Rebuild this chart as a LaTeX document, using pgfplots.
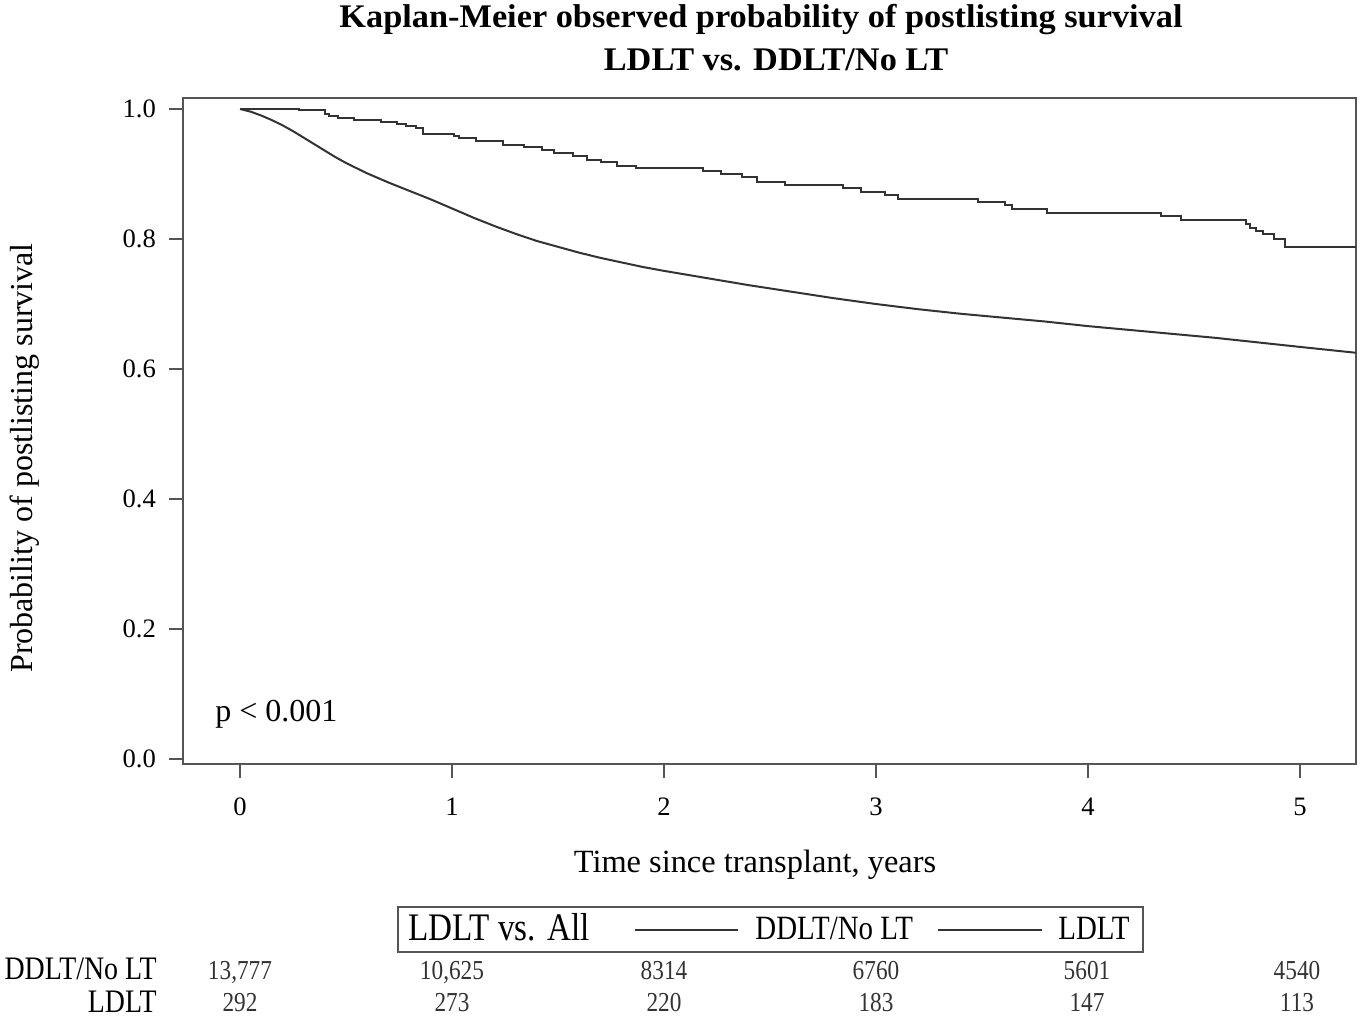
\documentclass[border=0pt]{standalone}
\usepackage{fontspec}
\setmainfont{Liberation Serif}
\newfontfamily\cond[FakeStretch=0.85]{Liberation Serif}
\newfontfamily\titlefont[FakeStretch=1.04]{Liberation Serif}
\usepackage{pgfplots}
\pgfplotsset{compat=1.18}

\definecolor{frame}{HTML}{555555}
\definecolor{curve}{HTML}{333333}

% Kaplan-Meier estimates
\pgfplotstableread{
t    s
0     1.000
0.278 0.998
0.401 0.992
0.420 0.989
0.462 0.986
0.538 0.983
0.665 0.980
0.740 0.977
0.783 0.974
0.830 0.971
0.863 0.962
1.009 0.958
1.033 0.955
1.113 0.951
1.241 0.945
1.340 0.941
1.425 0.937
1.481 0.933
1.571 0.927
1.637 0.922
1.703 0.918
1.778 0.913
1.868 0.909
2.184 0.905
2.269 0.900
2.368 0.895
2.439 0.887
2.571 0.883
2.844 0.878
2.929 0.873
3.042 0.868
3.104 0.862
3.481 0.857
3.608 0.852
3.642 0.846
3.807 0.840
4.344 0.835
4.439 0.829
4.745 0.823
4.764 0.817
4.792 0.812
4.825 0.807
4.877 0.800
4.929 0.788
5.264 0.788
}\ldlt

\pgfplotstableread{
t    s
0     1.000
0.05  0.996
0.10  0.990
0.15  0.983
0.20  0.975
0.25  0.966
0.30  0.956
0.35  0.946
0.40  0.936
0.45  0.926
0.50  0.917
0.55  0.909
0.60  0.901
0.65  0.894
0.70  0.887
0.80  0.874
0.90  0.861
1.0   0.847
1.1   0.833
1.2   0.820
1.3   0.808
1.4   0.797
1.5   0.788
1.6   0.779
1.7   0.771
1.8   0.764
1.9   0.757
2.0   0.751
2.2   0.740
2.4   0.729
2.6   0.719
2.8   0.709
3.0   0.700
3.2   0.692
3.4   0.685
3.6   0.679
3.8   0.673
4.0   0.666
4.2   0.660
4.4   0.654
4.6   0.648
4.8   0.641
5.0   0.634
5.264 0.625
}\ddlt

\begin{document}
\begin{tikzpicture}
\path[use as bounding box] (0pt,0pt) rectangle (680.5pt,509pt);

% axis frame: x 183..1356 px, y 98..764 px from the top (1 px = 0.5pt)
\begin{axis}[
    at={(91.5pt,127pt)}, anchor=south west,
    width=586.5pt, height=333pt, scale only axis,
    xmin=-0.269, xmax=5.264,
    ymin=-0.0077, ymax=1.017,
    xtick={0,1,2,3,4,5},
    ytick={0,0.2,0.4,0.6,0.8,1.0},
    y tick label style={/pgf/number format/fixed, /pgf/number format/fixed zerofill, /pgf/number format/precision=1},
    /pgf/number format/assume math mode=true,
    tick pos=left,
    tick align=outside,
    major tick length=7pt,
    axis line style={frame, line width=0.8pt},
    every tick/.style={frame, line width=0.8pt},
    ticklabel style={font=\fontsize{13.3}{15}\selectfont},
    xticklabel style={yshift=-6.5pt},
    yticklabel style={xshift=-3pt},
    clip=false,
]
\addplot[const plot, curve, line width=1pt] table[x=t, y=s] {\ldlt};
\addplot[curve, line width=1pt] table[x=t, y=s] {\ddlt};
\end{axis}

\begin{scope}[x=0.5pt, y=-0.5pt, shift={(0pt,509pt)}]
% titles and labels
\node[anchor=base, font=\titlefont\bfseries\fontsize{16.5}{20}\selectfont] at (761,28) {Kaplan-Meier observed probability of postlisting survival};
\node[anchor=base, font=\titlefont\bfseries\fontsize{16.5}{20}\selectfont] at (776,71) {LDLT vs. DDLT/No LT};
\node[anchor=base, font=\fontsize{16.2}{19}\selectfont] at (755,873) {Time since transplant, years};
\node[rotate=90, font=\fontsize{16}{19}\selectfont] at (25,458) {Probability of postlisting survival};
\node[anchor=base west, inner sep=0pt, font=\fontsize{16}{19}\selectfont] at (215,722) {p < 0.001};

% legend
\draw[frame, line width=0.8pt] (398,907) rectangle (1143,952);
\node[anchor=base west, inner sep=0pt, font=\cond\fontsize{19.5}{22}\selectfont] at (408,941) {LDLT vs. All};
\draw[curve, line width=1pt] (635,930) -- (738,930);
\node[anchor=base west, inner sep=0pt, font=\cond\fontsize{17}{20}\selectfont] at (755,940) {DDLT/No LT};
\draw[curve, line width=1pt] (938,930) -- (1042,930);
\node[anchor=base west, inner sep=0pt, font=\cond\fontsize{17}{20}\selectfont] at (1058,940) {LDLT};

% numbers at risk
\node[anchor=base east, inner sep=0pt, font=\cond\fontsize{16.4}{19}\selectfont] at (157,980) {DDLT/No LT};
\node[anchor=base east, inner sep=0pt, font=\cond\fontsize{16.4}{19}\selectfont] at (157,1013) {LDLT};
\foreach \xp/\n in {240/{13,777}, 452/{10,625}, 664/8314, 876/6760, 1087/5601, 1297/4540}
  \node[anchor=base, inner sep=0pt, text=curve, font=\cond\fontsize{13.7}{16}\selectfont] at (\xp,979) {\n};
\foreach \xp/\n in {240/292, 452/273, 664/220, 876/183, 1087/147, 1297/113}
  \node[anchor=base, inner sep=0pt, text=curve, font=\cond\fontsize{13.7}{16}\selectfont] at (\xp,1012) {\n};
\end{scope}
\end{tikzpicture}
\end{document}
